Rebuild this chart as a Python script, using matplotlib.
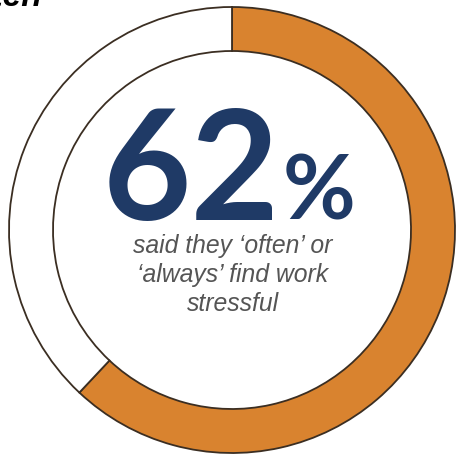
import matplotlib
matplotlib.use("Agg")
import matplotlib.pyplot as plt

# data
labels = ["often / always", "other"]
shares = [62, 38]
headline = "62"
caption = ["said they \u2018often\u2019 or", "\u2018always\u2019 find work", "stressful"]

orange = "#D9832F"
navy = "#1F3A66"
edge = "#3B2E22"

W, H = 457, 459
fig = plt.figure(figsize=(W / 100, H / 100), dpi=100)
ax = fig.add_axes([0, 0, 1, 1])

ax.pie(shares, colors=[orange, "white"], startangle=90, counterclock=False,
       radius=223, center=(232, H - 230),
       wedgeprops=dict(width=44, edgecolor=edge, linewidth=1.3))
ax.set_xlim(0, W)
ax.set_ylim(0, H)
ax.set_aspect("auto")
ax.axis("off")

# cut-off heading at top left
ax.text(43, H - 6, "often", ha="right", va="baseline", fontsize=24,
        fontweight="bold", fontstyle="italic", family="Liberation Sans", color="black")

ax.text(280, H - 220, headline, ha="right", va="baseline", fontsize=110,
        fontweight="bold", family="Lato", color=navy)
ax.text(283, H - 220, "%", ha="left", va="baseline", fontsize=64,
        fontweight="bold", family="Lato", color=navy)

for i, line in enumerate(caption):
    ax.text(233, H - 253 - i * 29, line, ha="center", va="baseline", fontsize=17.8,
            fontstyle="italic", family="Liberation Sans", color="#555555")

fig.savefig("out.png", dpi=100)
